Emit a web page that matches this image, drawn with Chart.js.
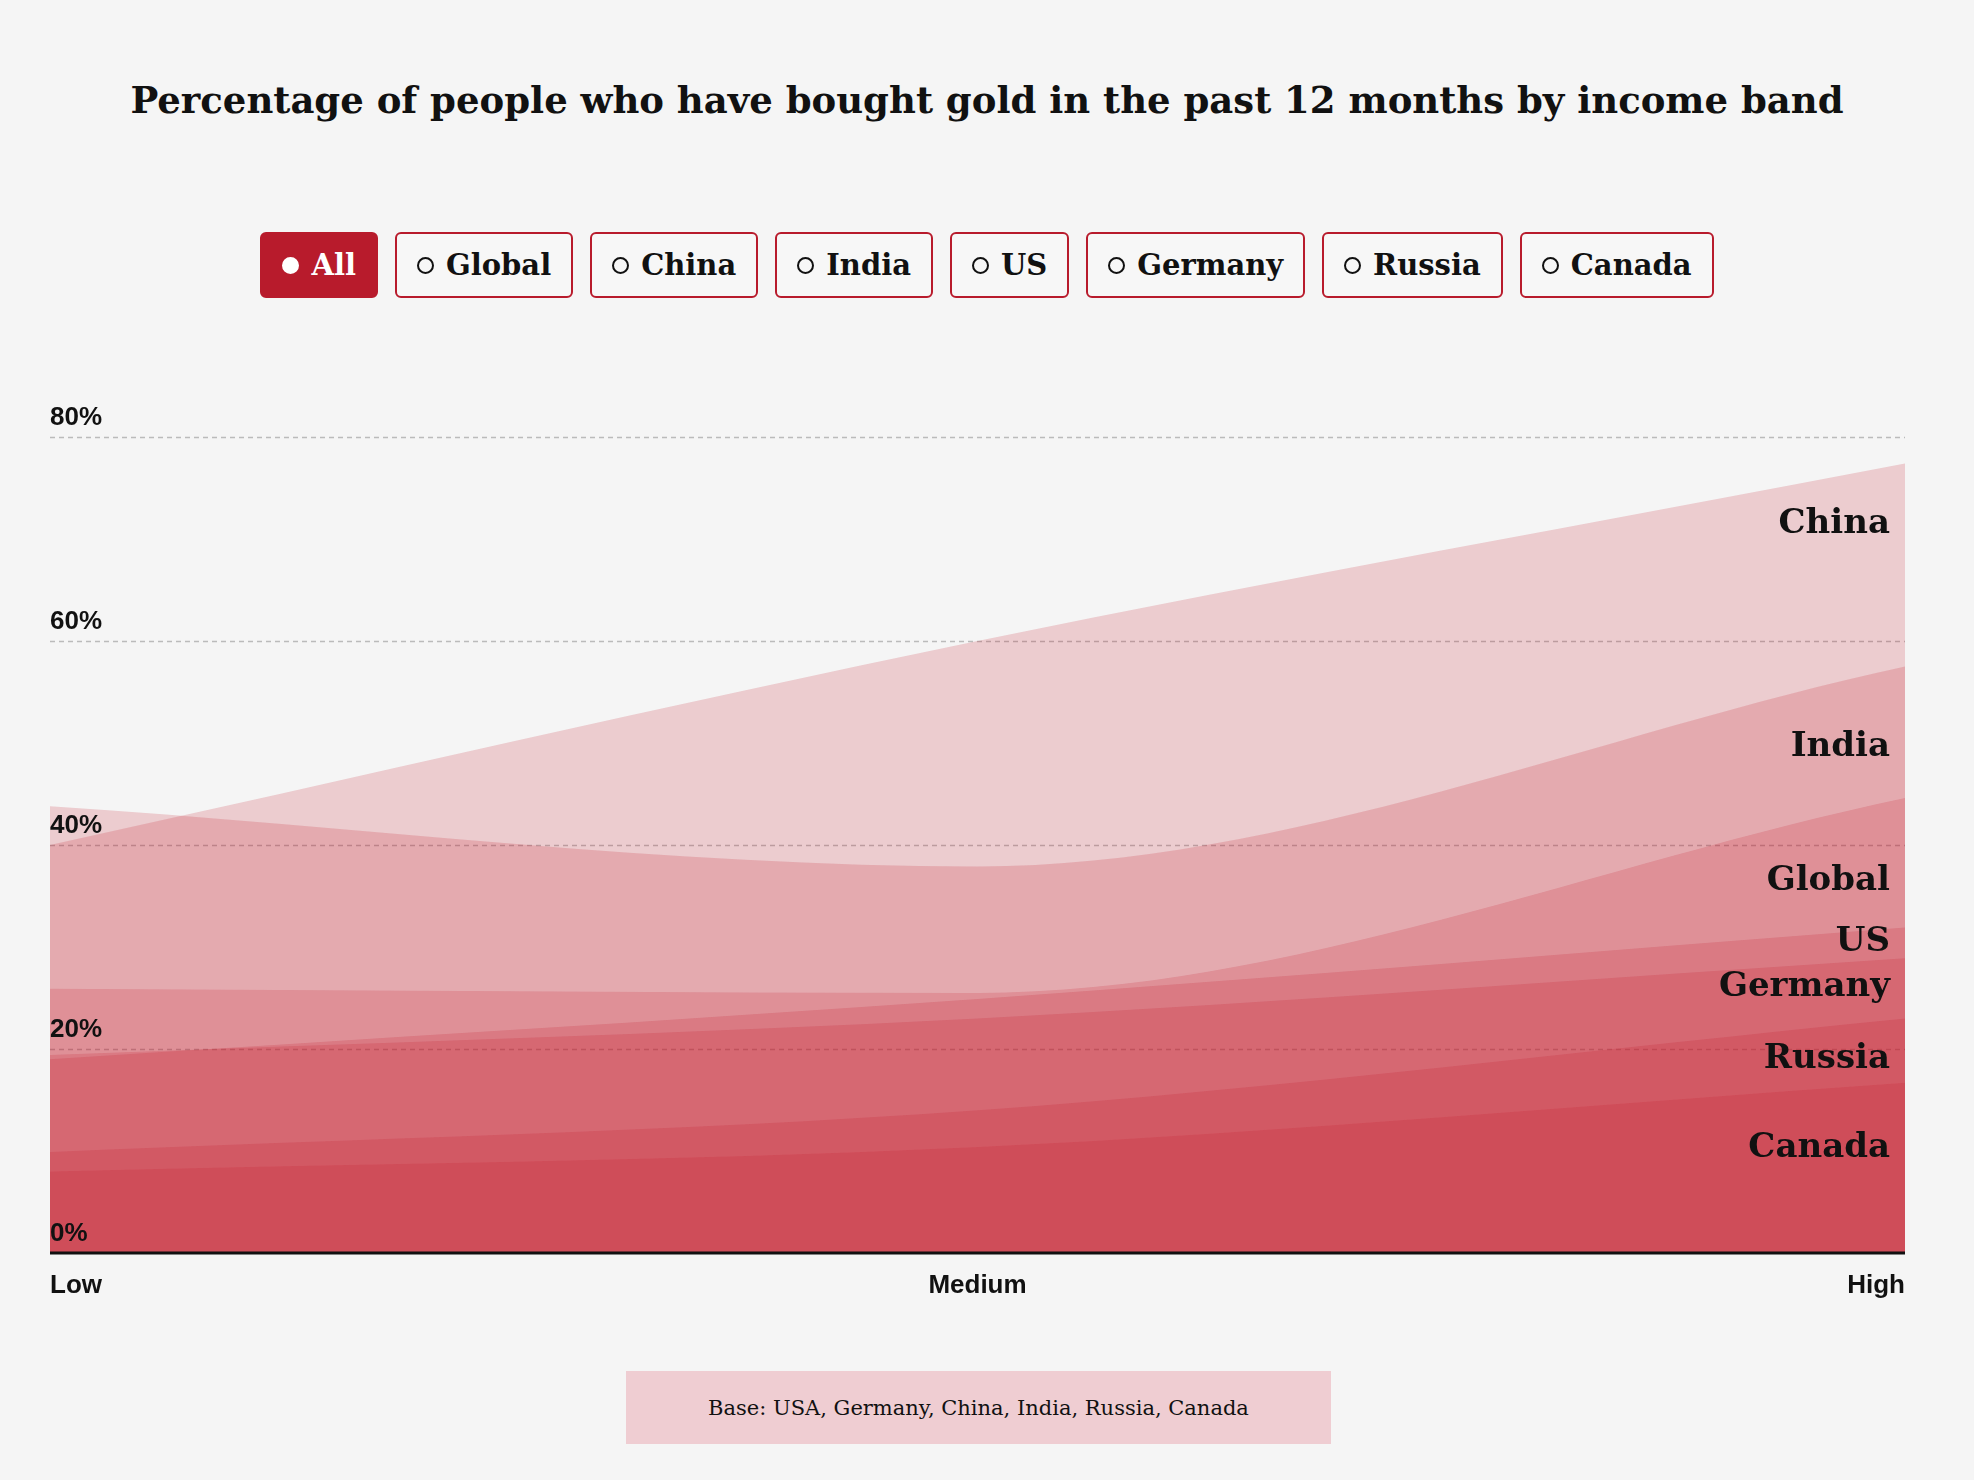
<!DOCTYPE html>
<html><head><meta charset="utf-8">
<script src="https://cdn.jsdelivr.net/npm/chart.js@4/dist/chart.umd.min.js"></script>
<style>
body{margin:0;background:#f5f5f5;width:1974px;height:1480px;position:relative;overflow:hidden;font-family:"DejaVu Serif",serif}
h1{position:absolute;top:78px;left:0;width:1974px;text-align:center;margin:0;font-size:37px;font-weight:bold;color:#111}
#btns{position:absolute;top:232px;left:0;width:1974px;display:flex;justify-content:center;gap:17px}
.b{height:66px;box-sizing:border-box;border:2px solid #b81b2c;border-radius:6px;padding:0 20px;display:flex;align-items:center;font-size:29px;font-weight:bold;color:#111;background:#f7f7f7}
.b i{width:13px;height:13px;border:2px solid #111;border-radius:50%;margin-right:12px;display:inline-block}
.b.on{background:#b81b2c;color:#fff}.b.on i{background:#fff;border-color:#fff}
#wrap{position:absolute;left:40px;top:400px;width:1875px;height:920px}
#base{position:absolute;left:626px;top:1371px;width:705px;height:73px;background:#efcdd2;display:flex;align-items:center;justify-content:center;font-size:21px;color:#111}
</style></head><body>
<h1>Percentage of people who have bought gold in the past 12 months by income band</h1>
<div id="btns"></div>
<div id="wrap"><canvas id="c"></canvas></div>
<div id="base">Base: USA, Germany, China, India, Russia, Canada</div>
<script>
const categories=["Low","Medium","High"];
const seriesNames=["China","India","Global","US","Germany","Russia","Canada"];
const china=[40,60,77.4];
const india=[43.8,37.9,57.5];
const global=[25.9,25.5,44.6];
const us=[19,24.9,31.9];
const germany=[19.4,23,28.9];
const russia=[9.9,14,23];
const canada=[8,10.4,16.7];
const labelValues=[71.5,49.6,36.5,30.5,26.1,19,10.3];
const yTicks=[0,20,40,60,80];
const buttons=["All","Global","China","India","US","Germany","Russia","Canada"];
const bd=document.getElementById('btns');
buttons.forEach((b,i)=>{const d=document.createElement('div');d.className='b'+(i==0?' on':'');d.innerHTML='<i></i>'+b;bd.appendChild(d);});
const vals=[china,india,global,us,germany,russia,canada];
const deco={id:'deco',
beforeDatasetsDraw(ch){const c=ch.ctx,a=ch.chartArea,y=ch.scales.y;c.save();
 c.strokeStyle='#bbb';c.lineWidth=1.3;c.setLineDash([5,4]);
 yTicks.forEach(t=>{if(t==0)return;const p=Math.round(y.getPixelForValue(t))+.5;c.beginPath();c.moveTo(a.left,p);c.lineTo(a.right,p);c.stroke();});
 c.restore();},
afterDatasetsDraw(ch){const c=ch.ctx,a=ch.chartArea,y=ch.scales.y,x=ch.scales.x;c.save();
 c.fillStyle='#111';c.font='bold 26px "Liberation Sans",Arial';c.textBaseline='bottom';c.textAlign='left';
 yTicks.forEach(t=>c.fillText(t+'%',a.left,y.getPixelForValue(t)-6));
 c.strokeStyle='#111';c.lineWidth=3;c.beginPath();c.moveTo(a.left,a.bottom);c.lineTo(a.right,a.bottom);c.stroke();
 c.textBaseline='top';
 categories.forEach((k,i)=>{c.textAlign=i==0?'left':i==categories.length-1?'right':'center';c.fillText(k,x.getPixelForValue(i),a.bottom+20);});
 c.font='bold 34px "DejaVu Serif",serif';c.textAlign='right';c.textBaseline='middle';
 seriesNames.forEach((n,i)=>c.fillText(n,a.right-15,y.getPixelForValue(labelValues[i])));
 c.restore();}};
new Chart(document.getElementById('c'),{type:'line',
data:{labels:categories,datasets:seriesNames.map((n,i)=>({label:n,data:vals[i],fill:'origin',backgroundColor:'rgba(195,25,45,0.19)',borderWidth:0,pointRadius:0,cubicInterpolationMode:'monotone'}))},
options:{responsive:true,maintainAspectRatio:false,animation:false,layout:{padding:{top:37,bottom:67,left:10,right:10}},
plugins:{legend:{display:false},tooltip:{enabled:false}},
scales:{x:{display:false,offset:false},y:{display:false,min:0,max:80}}},plugins:[deco]});
</script></body></html>
